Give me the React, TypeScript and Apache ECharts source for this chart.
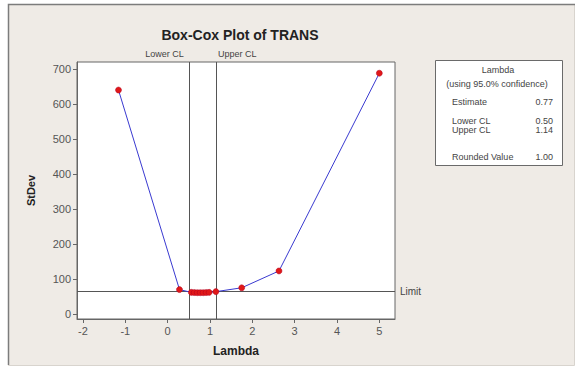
import React, { useEffect, useRef } from "react";
import * as echarts from "echarts";

// Box-Cox profile: standard deviation of the transformed data for each lambda
const lambdaValues = [-1.16, 0.28, 0.56, 0.63, 0.7, 0.77, 0.84, 0.91, 0.98, 1.14, 1.75, 2.63, 5.0];
const stdevValues = [640, 71, 63, 62.5, 62, 62, 62, 62.5, 63, 65, 76, 124, 688];

// Confidence interval and limit
const lowerCL = 0.5;
const upperCL = 1.14;
const limitValue = 65;

const xTicks = [-2, -1, 0, 1, 2, 3, 4, 5];
const yTicks = [0, 100, 200, 300, 400, 500, 600, 700];

// Summary table rows: [label, value]
const summaryTitle = "Lambda";
const summarySubtitle = "(using 95.0% confidence)";
const summaryRows: [string, string][] = [
  ["Estimate", "0.77"],
  ["Lower CL", "0.50"],
  ["Upper CL", "1.14"],
  ["Rounded Value", "1.00"],
];
const summaryRowY = [102, 121, 130, 157];

const FONT = "Liberation Sans, Arial, sans-serif";
const TEXT = "#444";

export default function App() {
  const ref = useRef<HTMLDivElement>(null);

  useEffect(() => {
    if (!ref.current) return;
    const chart = echarts.init(ref.current, undefined, { renderer: "svg" });

    const tableText: any[] = [
      {
        type: "text",
        x: 498,
        y: 70,
        style: { text: summaryTitle, font: `9px ${FONT}`, fill: TEXT, align: "center", verticalAlign: "middle" },
      },
      {
        type: "text",
        x: 497,
        y: 84,
        style: { text: summarySubtitle, font: `9px ${FONT}`, fill: TEXT, align: "center", verticalAlign: "middle" },
      },
    ];
    summaryRows.forEach(([label, value], i) => {
      tableText.push({
        type: "text",
        x: 452,
        y: summaryRowY[i],
        style: { text: label, font: `9px ${FONT}`, fill: TEXT, align: "left", verticalAlign: "middle" },
      });
      tableText.push({
        type: "text",
        x: 553,
        y: summaryRowY[i],
        style: { text: value, font: `9px ${FONT}`, fill: TEXT, align: "right", verticalAlign: "middle" },
      });
    });

    chart.setOption({
      animation: false,
      backgroundColor: "#ffffff",
      title: {
        text: "Box-Cox Plot of TRANS",
        left: 235,
        top: 23,
        textAlign: "center",
        textStyle: { fontFamily: FONT, fontWeight: "bold", fontSize: 14, color: "#222" },
      },
      graphic: [
        {
          type: "rect",
          z: -10,
          shape: { x: 8.5, y: 4.5, width: 566, height: 361 },
          style: { fill: "#efebe6", stroke: "#d8d4ce", lineWidth: 1 },
        },
        {
          type: "polyline",
          z: -9,
          shape: { points: [[8.5, 365], [8.5, 4.5], [575, 4.5]] },
          style: { stroke: "#7c7c7c", lineWidth: 1.5, fill: null },
        },
        {
          type: "rect",
          shape: { x: 435.5, y: 60.5, width: 127, height: 105 },
          style: { fill: "#ffffff", stroke: "#6a6a6a", lineWidth: 1 },
        },
        ...tableText,
      ],
      grid: {
        left: 77,
        right: 183,
        top: 62,
        bottom: 48,
        show: true,
        backgroundColor: "#ffffff",
        borderColor: "#666",
        borderWidth: 1,
      },
      xAxis: {
        type: "value",
        min: -2.14,
        max: 5.37,
        name: "Lambda",
        nameLocation: "middle",
        nameGap: 26,
        nameTextStyle: { fontFamily: FONT, fontWeight: "bold", fontSize: 12, color: "#222" },
        axisLine: { show: true, onZero: false, lineStyle: { color: "#666" } },
        axisTick: { show: true, length: 4, lineStyle: { color: "#666" }, customValues: xTicks },
        axisLabel: { fontFamily: FONT, fontSize: 11, color: "#555", margin: 6, customValues: xTicks },
        splitLine: { show: false },
      },
      yAxis: {
        type: "value",
        min: -13,
        max: 720,
        name: "StDev",
        nameLocation: "middle",
        nameGap: 41,
        nameRotate: 90,
        nameTextStyle: { fontFamily: FONT, fontWeight: "bold", fontSize: 11, color: "#222" },
        axisLine: { show: true, onZero: false, lineStyle: { color: "#666" } },
        axisTick: { show: true, length: 4, lineStyle: { color: "#666" }, customValues: yTicks },
        axisLabel: { fontFamily: FONT, fontSize: 11, color: "#555", margin: 6, customValues: yTicks },
        splitLine: { show: false },
      },
      series: [
        {
          type: "line",
          data: lambdaValues.map((l, i) => [l, stdevValues[i]]),
          symbol: "circle",
          symbolSize: 6,
          lineStyle: { color: "#3a3ad0", width: 1 },
          itemStyle: { color: "#e01818", borderColor: "#b00020", borderWidth: 0.5 },
          z: 5,
          markLine: {
            silent: true,
            symbol: "none",
            animation: false,
            lineStyle: { color: "#555", width: 1, type: "solid" },
            label: { fontFamily: FONT, fontSize: 9, color: "#444" },
            data: [
              {
                xAxis: lowerCL,
                label: { formatter: "Lower CL", position: "end", align: "right", padding: [0, 5, 0, 0], distance: 4 },
              },
              {
                xAxis: upperCL,
                label: { formatter: "Upper CL", position: "end", align: "left", padding: [0, 0, 0, 2], distance: 4 },
              },
              {
                yAxis: limitValue,
                label: { formatter: "Limit", position: "end", fontSize: 10, distance: 5 },
              },
            ],
          },
        },
      ],
    });

    return () => chart.dispose();
  }, []);

  return (
    <div
      ref={ref}
      style={{ position: "fixed", left: 0, top: 0, width: 578, height: 367 }}
    />
  );
}
